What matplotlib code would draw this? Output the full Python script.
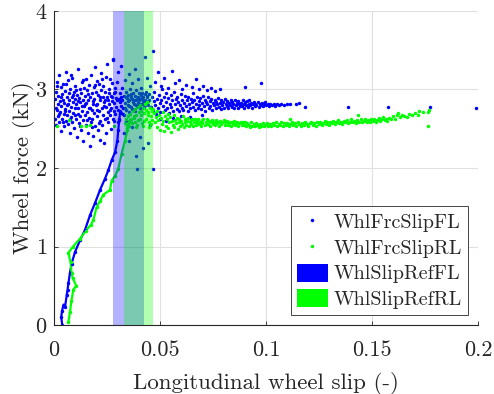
import numpy as np
import matplotlib
matplotlib.use("Agg")
import matplotlib.pyplot as plt
from matplotlib.patches import Patch

plt.rcParams['font.family'] = 'serif'
plt.rcParams['font.serif'] = ['cmr10']
plt.rcParams['mathtext.fontset'] = 'cm'
plt.rcParams['axes.formatter.use_mathtext'] = True

# slip reference windows (lower, upper)
slip_ref_fl = [0.0280, 0.0426]
slip_ref_rl = [0.0330, 0.0466]

# --- front left: force vs slip ---
fl_ramp_x = [0.0039, 0.0034, 0.0038, 0.0045, 0.0052, 0.0060, 0.0064, 0.0068, 0.0075, 0.0083, 0.0099,
             0.0123, 0.0146, 0.0170, 0.0193, 0.0217, 0.0240, 0.0256, 0.0272, 0.0288, 0.0299,
             0.0303, 0.0308, 0.0312]
fl_ramp_f = [0.00, 0.10, 0.18, 0.26, 0.23, 0.38, 0.45, 0.53, 0.66, 0.78, 0.93,
             1.08, 1.21, 1.40, 1.55, 1.72, 1.86, 1.97, 2.10, 2.20, 2.35,
             2.48, 2.61, 2.72]

fl_low_slip = [
    (0.0004, 2.63), (0.0006, 2.88), (0.0009, 2.97), (0.0011, 2.55), (0.0013, 3.10), (0.0015, 2.74),
    (0.0017, 2.81), (0.0019, 2.66), (0.0021, 2.92), (0.0023, 3.18), (0.0025, 2.58), (0.0027, 2.85),
    (0.0029, 2.71), (0.0031, 3.03), (0.0033, 2.47), (0.0035, 2.79), (0.0037, 2.94), (0.0039, 2.62),
    (0.0041, 2.87), (0.0043, 3.07), (0.0045, 2.69), (0.0047, 2.53), (0.0049, 2.83), (0.0051, 2.98),
    (0.0053, 2.75), (0.0055, 3.22), (0.0057, 2.60), (0.0059, 2.90), (0.0061, 2.68), (0.0063, 2.80),
    (0.0065, 3.12), (0.0067, 2.56), (0.0069, 2.95), (0.0071, 2.72), (0.0073, 2.86), (0.0075, 2.44),
    (0.0077, 3.01), (0.0079, 2.65), (0.0081, 2.78), (0.0083, 2.91), (0.0085, 2.59), (0.0087, 3.15),
    (0.0089, 2.84), (0.0091, 2.70), (0.0093, 2.97), (0.0095, 2.51), (0.0097, 2.76), (0.0099, 2.88),
    (0.0101, 3.05), (0.0103, 2.63), (0.0105, 2.82), (0.0107, 2.39), (0.0109, 2.93), (0.0111, 2.69),
    (0.0113, 3.26), (0.0115, 2.77), (0.0117, 2.57), (0.0119, 2.89), (0.0121, 3.00), (0.0123, 2.66),
    (0.0125, 2.84), (0.0127, 2.48), (0.0129, 2.96), (0.0131, 2.73), (0.0133, 3.09), (0.0135, 2.61),
    (0.0137, 2.87), (0.0139, 2.35), (0.0141, 2.79), (0.0143, 3.02), (0.0145, 2.68), (0.0147, 2.92),
    (0.0149, 2.55), (0.0151, 2.83), (0.0153, 3.14), (0.0155, 2.71), (0.0157, 2.99), (0.0159, 2.45),
    (0.0161, 2.86), (0.0163, 2.64), (0.0165, 3.06), (0.0167, 2.77), (0.0169, 2.28), (0.0171, 2.90),
    (0.0173, 2.58), (0.0175, 3.19), (0.0177, 2.74), (0.0179, 2.95), (0.0181, 2.62), (0.0183, 2.85),
    (0.0185, 2.41), (0.0187, 3.03), (0.0189, 2.70), (0.0191, 2.88), (0.0193, 3.29), (0.0195, 2.53),
    (0.0197, 2.80), (0.0199, 2.97), (0.0201, 2.66), (0.0203, 3.11), (0.0205, 2.82), (0.0207, 2.49),
    (0.0209, 2.93), (0.0211, 2.72), (0.0213, 3.07), (0.0215, 2.36), (0.0217, 2.86), (0.0219, 2.60),
    (0.0221, 2.99), (0.0223, 3.21), (0.0225, 2.76), (0.0227, 2.55), (0.0229, 2.91), (0.0231, 2.68),
    (0.0233, 3.04), (0.0235, 2.32), (0.0237, 2.84), (0.0239, 2.97), (0.0241, 2.63), (0.0243, 3.16),
    (0.0245, 2.78), (0.0247, 2.44), (0.0249, 2.90), (0.0251, 3.32), (0.0253, 2.71), (0.0255, 2.87),
    (0.0257, 2.58), (0.0259, 3.01), (0.0261, 2.81), (0.0263, 2.67), (0.0265, 3.13), (0.0267, 2.92),
    (0.0269, 2.50), (0.0271, 2.77), (0.0273, 3.08), (0.0275, 2.85), (0.0277, 2.63), (0.0279, 3.38),
    (0.0281, 2.95), (0.0283, 2.72), (0.0285, 2.83), (0.0287, 3.02), (0.0289, 2.69), (0.0291, 2.89),
    (0.0293, 2.78), (0.0295, 3.10), (0.0297, 2.86),
    (0.0008, 2.77), (0.0016, 3.04), (0.0024, 2.69), (0.0034, 2.91), (0.0042, 2.58), (0.0050, 2.73),
    (0.0058, 3.07), (0.0066, 2.82), (0.0074, 2.63), (0.0082, 3.18), (0.0090, 2.93), (0.0098, 2.67),
    (0.0106, 2.99), (0.0114, 2.85), (0.0122, 2.54), (0.0130, 2.79), (0.0138, 3.12), (0.0146, 2.81),
    (0.0154, 2.61), (0.0162, 2.94), (0.0170, 2.76), (0.0178, 2.52), (0.0186, 2.81), (0.0194, 3.06),
    (0.0202, 2.74), (0.0210, 2.57), (0.0218, 2.91), (0.0226, 3.13), (0.0234, 2.79), (0.0242, 2.86),
    (0.0250, 2.64), (0.0258, 2.95), (0.0266, 2.74), (0.0274, 2.91), (0.0282, 2.60), (0.0290, 2.97),
]

fl_peak = [
    (0.0302, 2.74), (0.0305, 2.88), (0.0308, 2.63), (0.0311, 2.95), (0.0314, 2.79), (0.0317, 2.70),
    (0.0320, 2.86), (0.0323, 3.02), (0.0326, 2.76), (0.0329, 2.92), (0.0332, 2.68), (0.0335, 2.83),
    (0.0338, 2.97), (0.0341, 2.74), (0.0344, 2.89), (0.0347, 2.80), (0.0350, 2.93), (0.0353, 2.71),
    (0.0356, 2.86), (0.0359, 3.00), (0.0362, 2.78), (0.0365, 2.90), (0.0368, 2.75), (0.0371, 2.84),
    (0.0374, 2.96), (0.0377, 2.81), (0.0380, 2.92), (0.0383, 2.73), (0.0386, 2.87), (0.0389, 2.99),
    (0.0392, 2.79), (0.0395, 2.90), (0.0398, 2.83), (0.0401, 2.95), (0.0404, 2.76), (0.0407, 2.88),
    (0.0410, 2.93), (0.0413, 2.81), (0.0416, 2.96), (0.0419, 2.85), (0.0422, 2.91), (0.0425, 2.78),
    (0.0428, 2.94), (0.0431, 2.86), (0.0434, 2.97), (0.0437, 2.83), (0.0440, 2.90), (0.0443, 2.80),
    (0.0446, 2.94), (0.0449, 2.87), (0.0303, 2.58), (0.0310, 2.84), (0.0318, 2.91), (0.0325, 2.69),
    (0.0333, 2.77), (0.0340, 2.90), (0.0348, 2.85), (0.0355, 2.79), (0.0363, 2.94), (0.0370, 2.88),
    (0.0378, 2.86), (0.0385, 2.80), (0.0393, 2.88), (0.0400, 2.86), (0.0408, 2.82), (0.0415, 2.89),
    (0.0423, 2.85), (0.0430, 2.80), (0.0438, 2.92), (0.0445, 2.85),
    (0.0280, 3.39), (0.0300, 3.22), (0.0315, 3.30), (0.0336, 3.12), (0.0352, 3.20), (0.0368, 3.08),
    (0.0381, 3.26), (0.0396, 3.14), (0.0410, 3.02), (0.0429, 3.41), (0.0440, 3.15), (0.0452, 3.05),
    (0.0468, 3.49), (0.0330, 2.45), (0.0352, 2.35), (0.0370, 2.52), (0.0387, 2.15), (0.0390, 1.99),
    (0.0405, 2.40), (0.0420, 2.25), (0.0445, 2.32), (0.0468, 1.99), (0.0455, 2.55), (0.0340, 2.60),
]

fl_high_slip = [
    (0.0458, 2.78), (0.0462, 2.91), (0.0466, 2.72), (0.0470, 2.85), (0.0474, 2.97), (0.0478, 2.80),
    (0.0482, 2.69), (0.0486, 2.88), (0.0490, 2.76), (0.0494, 2.93), (0.0498, 2.83), (0.0502, 2.71),
    (0.0506, 2.87), (0.0510, 3.00), (0.0514, 2.79), (0.0518, 2.90), (0.0522, 2.74), (0.0526, 2.84),
    (0.0530, 2.95), (0.0534, 2.77), (0.0538, 2.89), (0.0542, 2.70), (0.0546, 2.82), (0.0550, 2.93),
    (0.0554, 2.78), (0.0558, 2.86), (0.0562, 2.73), (0.0566, 2.97), (0.0570, 2.81), (0.0574, 2.88),
    (0.0578, 2.75), (0.0582, 2.91), (0.0586, 2.84), (0.0590, 2.72), (0.0594, 2.80), (0.0598, 2.94),
    (0.0602, 2.77), (0.0606, 2.87), (0.0610, 2.74), (0.0614, 2.83), (0.0618, 2.92), (0.0622, 2.79),
    (0.0626, 2.86), (0.0630, 2.73), (0.0634, 2.90), (0.0638, 2.81), (0.0642, 2.76), (0.0646, 2.88),
    (0.0650, 2.84), (0.0654, 2.95), (0.0658, 2.78), (0.0662, 2.86), (0.0666, 2.74), (0.0670, 2.82),
    (0.0674, 2.91), (0.0678, 2.77), (0.0682, 2.85), (0.0686, 2.80), (0.0690, 2.89), (0.0694, 2.75),
    (0.0698, 2.83), (0.0702, 2.92), (0.0706, 2.79), (0.0710, 2.86), (0.0714, 2.73), (0.0718, 2.84),
    (0.0722, 2.81), (0.0726, 2.90), (0.0730, 2.77), (0.0734, 2.85), (0.0738, 2.79), (0.0742, 2.88),
    (0.0746, 2.74), (0.0750, 2.83), (0.0754, 2.80), (0.0758, 2.87), (0.0762, 2.76), (0.0766, 2.84),
    (0.0770, 2.81), (0.0774, 2.89), (0.0778, 2.78), (0.0782, 2.83), (0.0786, 2.75), (0.0790, 2.86),
    (0.0794, 2.80), (0.0798, 2.84), (0.0802, 2.77), (0.0806, 2.88), (0.0810, 2.81), (0.0814, 2.79),
    (0.0818, 2.85), (0.0822, 2.76), (0.0826, 2.83), (0.0830, 2.80), (0.0834, 2.87), (0.0838, 2.78),
    (0.0842, 2.84), (0.0846, 2.81), (0.0850, 2.76), (0.0854, 2.86), (0.0858, 2.80), (0.0862, 2.83),
    (0.0866, 2.77), (0.0870, 2.85), (0.0874, 2.81), (0.0878, 2.79),
    (0.0475, 3.10), (0.0490, 3.22), (0.0505, 3.05), (0.0520, 3.15), (0.0540, 3.02), (0.0556, 3.24),
    (0.0572, 3.08), (0.0590, 3.12), (0.0605, 3.01), (0.0625, 3.06), (0.0650, 3.03), (0.0668, 3.13),
    (0.0685, 3.00), (0.0702, 3.04), (0.0720, 2.99), (0.0740, 3.02), (0.0760, 2.98), (0.0783, 3.00),
    (0.0500, 2.62), (0.0530, 2.60), (0.0560, 2.64), (0.0600, 2.66), (0.0640, 2.65), (0.0700, 2.67),
    (0.0882, 2.83), (0.0886, 2.79), (0.0890, 2.86), (0.0894, 2.81), (0.0898, 2.77), (0.0902, 2.84),
    (0.0906, 2.80), (0.0910, 2.85), (0.0914, 2.78), (0.0918, 2.82), (0.0922, 2.86), (0.0926, 2.80),
    (0.0930, 2.83), (0.0934, 2.77), (0.0938, 2.81), (0.0942, 2.84), (0.0946, 2.79), (0.0950, 2.82),
    (0.0955, 2.80), (0.0960, 2.84), (0.0965, 2.78), (0.0970, 2.82), (0.0975, 2.80), (0.0980, 2.83),
    (0.0985, 2.79), (0.0990, 2.81), (0.0996, 2.84), (0.1002, 2.80), (0.1008, 2.82), (0.1014, 2.79),
    (0.1020, 2.81), (0.1028, 2.80), (0.1036, 2.82), (0.1044, 2.79), (0.1052, 2.81), (0.1062, 2.80),
    (0.1072, 2.81), (0.1085, 2.80), (0.1100, 2.81), (0.1115, 2.82), (0.1140, 2.82), (0.1158, 2.83),
    (0.0900, 3.03), (0.0975, 3.08), (0.1185, 2.78), (0.1385, 2.78), (0.1575, 2.78), (0.1775, 2.78),
    (0.1990, 2.77),
]

# --- rear left: force vs slip ---
rl_ramp_x = [0.0068, 0.0075, 0.0082, 0.0091, 0.0105, 0.0088, 0.0083, 0.0078, 0.0068, 0.0090,
             0.0123, 0.0150, 0.0175, 0.0186, 0.0201, 0.0217, 0.0233, 0.0264, 0.0272, 0.0288,
             0.0303, 0.0319, 0.0335, 0.0346, 0.0358]
rl_ramp_f = [0.04, 0.16, 0.30, 0.45, 0.50, 0.60, 0.66, 0.80, 0.92, 1.00,
             1.10, 1.20, 1.28, 1.34, 1.50, 1.58, 1.66, 1.72, 1.84, 1.90,
             1.99, 2.18, 2.35, 2.48, 2.61]

rl_low_slip = [(0.0014, 2.53), (0.0069, 2.61), (0.0129, 2.53), (0.0151, 2.53), (0.0170, 2.55),
               (0.0281, 2.53)]

rl_peak = [
    (0.0336, 2.57), (0.0340, 2.62), (0.0344, 2.55), (0.0348, 2.66), (0.0352, 2.60), (0.0356, 2.53),
    (0.0360, 2.69), (0.0364, 2.63), (0.0368, 2.57), (0.0372, 2.72), (0.0376, 2.66), (0.0380, 2.59),
    (0.0384, 2.75), (0.0388, 2.68), (0.0392, 2.55), (0.0396, 2.78), (0.0400, 2.71), (0.0404, 2.62),
    (0.0408, 2.80), (0.0412, 2.67), (0.0416, 2.57), (0.0420, 2.76), (0.0424, 2.70), (0.0428, 2.82),
    (0.0432, 2.63), (0.0436, 2.74), (0.0440, 2.84), (0.0444, 2.68), (0.0448, 2.58), (0.0452, 2.77),
    (0.0456, 2.66), (0.0460, 2.72), (0.0464, 2.61), (0.0468, 2.75), (0.0345, 2.51), (0.0362, 2.58),
    (0.0378, 2.64), (0.0394, 2.61), (0.0410, 2.73), (0.0426, 2.60), (0.0442, 2.71), (0.0458, 2.56),
    (0.0386, 2.52), (0.0418, 2.54), (0.0450, 2.52),
]

rl_high_slip = [
    (0.0472, 2.70), (0.0476, 2.58), (0.0480, 2.65), (0.0484, 2.52), (0.0488, 2.73), (0.0492, 2.61),
    (0.0496, 2.68), (0.0500, 2.49), (0.0504, 2.64), (0.0508, 2.56), (0.0512, 2.71), (0.0516, 2.60),
    (0.0520, 2.47), (0.0524, 2.66), (0.0528, 2.54), (0.0532, 2.62), (0.0536, 2.69), (0.0540, 2.51),
    (0.0544, 2.58), (0.0548, 2.65), (0.0552, 2.46), (0.0556, 2.60), (0.0560, 2.55), (0.0564, 2.67),
    (0.0568, 2.52), (0.0572, 2.61), (0.0576, 2.57), (0.0580, 2.64), (0.0584, 2.50), (0.0588, 2.59),
    (0.0592, 2.63), (0.0596, 2.54), (0.0600, 2.60), (0.0604, 2.56), (0.0608, 2.66), (0.0612, 2.52),
    (0.0616, 2.58), (0.0620, 2.62), (0.0624, 2.55), (0.0628, 2.60), (0.0632, 2.64), (0.0636, 2.53),
    (0.0640, 2.58), (0.0644, 2.61), (0.0648, 2.56), (0.0652, 2.63), (0.0656, 2.54), (0.0660, 2.59),
    (0.0664, 2.62), (0.0668, 2.57), (0.0672, 2.55), (0.0676, 2.60), (0.0680, 2.63), (0.0684, 2.56),
    (0.0688, 2.59), (0.0692, 2.54), (0.0696, 2.61), (0.0700, 2.57), (0.0705, 2.63), (0.0710, 2.55),
    (0.0715, 2.59), (0.0720, 2.62), (0.0725, 2.56), (0.0730, 2.60), (0.0735, 2.54), (0.0740, 2.58),
    (0.0745, 2.61), (0.0750, 2.56), (0.0755, 2.59), (0.0760, 2.55), (0.0765, 2.61), (0.0770, 2.57),
    (0.0775, 2.59), (0.0780, 2.54), (0.0785, 2.60), (0.0790, 2.56), (0.0795, 2.58), (0.0800, 2.61),
    (0.0805, 2.55), (0.0810, 2.58), (0.0815, 2.60), (0.0820, 2.55), (0.0825, 2.57), (0.0830, 2.59),
    (0.0835, 2.54), (0.0840, 2.58), (0.0845, 2.56), (0.0850, 2.60), (0.0855, 2.55), (0.0860, 2.57),
    (0.0865, 2.59), (0.0870, 2.54), (0.0875, 2.57), (0.0880, 2.59), (0.0885, 2.55), (0.0890, 2.58),
    (0.0895, 2.55), (0.0900, 2.59), (0.0906, 2.53), (0.0912, 2.57), (0.0918, 2.55), (0.0924, 2.52),
    (0.0930, 2.58), (0.0936, 2.54), (0.0942, 2.56), (0.0948, 2.53), (0.0954, 2.57), (0.0960, 2.55),
    (0.0966, 2.52), (0.0972, 2.56), (0.0978, 2.54), (0.0984, 2.57), (0.0990, 2.53), (0.0996, 2.55),
    (0.1003, 2.57), (0.1010, 2.54), (0.1017, 2.56), (0.1024, 2.53), (0.1031, 2.57), (0.1038, 2.55),
    (0.1045, 2.58), (0.1052, 2.54), (0.1059, 2.56), (0.1066, 2.55), (0.1073, 2.58), (0.1080, 2.54),
    (0.1087, 2.57), (0.1094, 2.55), (0.1101, 2.57), (0.1108, 2.54), (0.1113, 2.63), (0.1115, 2.56),
    (0.1122, 2.58), (0.1129, 2.55), (0.1136, 2.57), (0.1143, 2.54), (0.1150, 2.58), (0.1157, 2.56),
    (0.1164, 2.53), (0.1171, 2.57), (0.1178, 2.55), (0.1185, 2.58), (0.1192, 2.56), (0.1199, 2.54),
    (0.1206, 2.57), (0.1213, 2.59), (0.1220, 2.55), (0.1227, 2.57), (0.1234, 2.54), (0.1241, 2.58),
    (0.1248, 2.56), (0.1255, 2.59), (0.1262, 2.55), (0.1269, 2.57), (0.1276, 2.60), (0.1283, 2.56),
    (0.1290, 2.58), (0.1297, 2.55), (0.1304, 2.59), (0.1311, 2.57), (0.1318, 2.60), (0.1325, 2.56),
    (0.1332, 2.58), (0.1339, 2.61), (0.1346, 2.57), (0.1353, 2.59), (0.1360, 2.56), (0.1367, 2.60),
    (0.1374, 2.58), (0.1381, 2.61), (0.1388, 2.57), (0.1395, 2.59), (0.1402, 2.62), (0.1409, 2.58),
    (0.1416, 2.60), (0.1423, 2.57), (0.1430, 2.61), (0.1436, 2.67), (0.1440, 2.59), (0.1447, 2.62),
    (0.1454, 2.58), (0.1461, 2.60), (0.1468, 2.63), (0.1475, 2.59), (0.1482, 2.61), (0.1489, 2.58),
    (0.1496, 2.62), (0.1503, 2.60), (0.1510, 2.63), (0.1517, 2.59), (0.1524, 2.61), (0.1531, 2.64),
    (0.1538, 2.60), (0.1545, 2.62), (0.1552, 2.65), (0.1559, 2.61), (0.1566, 2.63), (0.1573, 2.60),
    (0.1580, 2.64), (0.1590, 2.62), (0.1600, 2.66), (0.1610, 2.63), (0.1620, 2.67), (0.1624, 2.70),
    (0.1632, 2.65), (0.1642, 2.68), (0.1652, 2.66), (0.1664, 2.65), (0.1675, 2.69), (0.1690, 2.67),
    (0.1705, 2.70), (0.1715, 2.68), (0.1723, 2.73), (0.1740, 2.71), (0.1766, 2.71), (0.1766, 2.53),
    (0.1770, 2.74),
]

x_ticks = [0, 0.05, 0.1, 0.15, 0.2]
x_tick_labels = ['0', '0.05', '0.1', '0.15', '0.2']
y_ticks = [0, 1, 2, 3, 4]

blue = (0, 0, 1)
green = (0, 1, 0)
ink = (0.15, 0.15, 0.15)

fig = plt.figure(figsize=(4.94, 3.94), dpi=100)
ax = fig.add_axes([0.1093, 0.1751, 0.8583, 0.797])

fl_pts = np.array(fl_low_slip + fl_peak + fl_high_slip)
rl_pts = np.array(rl_low_slip + rl_peak + rl_high_slip)

# ramps drawn as thin traces so the dense sample chain reads as a line
ax.plot(fl_ramp_x, fl_ramp_f, '-', color=blue, lw=1.6, zorder=2)
ax.plot(rl_ramp_x, rl_ramp_f, '-', color=green, lw=1.6, zorder=2)
h_fl, = ax.plot(np.r_[fl_ramp_x, fl_pts[:, 0]], np.r_[fl_ramp_f, fl_pts[:, 1]], 'o', color=blue,
                ms=2.5, mew=0, ls='none', zorder=2)
h_rl, = ax.plot(np.r_[rl_ramp_x, rl_pts[:, 0]], np.r_[rl_ramp_f, rl_pts[:, 1]], 'o', color=green,
                ms=2.5, mew=0, ls='none', zorder=2)

# reference slip windows on top of the samples
ax.axvspan(slip_ref_fl[0], slip_ref_fl[1], color=blue, alpha=0.3, lw=0, zorder=3)
ax.axvspan(slip_ref_rl[0], slip_ref_rl[1], color=green, alpha=0.3, lw=0, zorder=3)

ax.set_xlim(0, 0.2)
ax.set_ylim(0, 4)
ax.set_xticks(x_ticks)
ax.set_xticklabels(x_tick_labels)
ax.set_yticks(y_ticks)
ax.tick_params(direction='in', length=3, width=0.6, colors=ink, labelsize=16, top=False, right=False)
ax.tick_params(axis='x', pad=11)
ax.tick_params(axis='y', pad=5)
ax.grid(True, color=(0.88, 0.88, 0.88), lw=0.8)
ax.set_axisbelow(True)
for side in ['top', 'right']:
    ax.spines[side].set_visible(False)
for side in ['left', 'bottom']:
    ax.spines[side].set_color(ink)
    ax.spines[side].set_linewidth(0.8)

ax.set_xlabel('Longitudinal wheel slip (-)', fontsize=16.5, color=ink, labelpad=9)
ax.set_ylabel('Wheel force (kN)', fontsize=16.5, color=ink, labelpad=0)

handles = [h_fl, h_rl, Patch(facecolor=blue, edgecolor='none'), Patch(facecolor=green, edgecolor='none')]
labels = ['WhlFrcSlipFL', 'WhlFrcSlipRL', 'WhlSlipRefFL', 'WhlSlipRefRL']
leg = ax.legend(handles, labels, loc='lower right', bbox_to_anchor=(468 / 494, 79 / 394),
                bbox_transform=fig.transFigure, borderaxespad=0, fontsize=14.5, fancybox=False,
                framealpha=1, edgecolor=ink, handlelength=1.5, handleheight=1.0,
                labelspacing=0.28, borderpad=0.3, handletextpad=0.3)
leg.get_frame().set_linewidth(0.6)
for t in leg.get_texts():
    t.set_color(ink)

fig.savefig('out.png', dpi=100)
